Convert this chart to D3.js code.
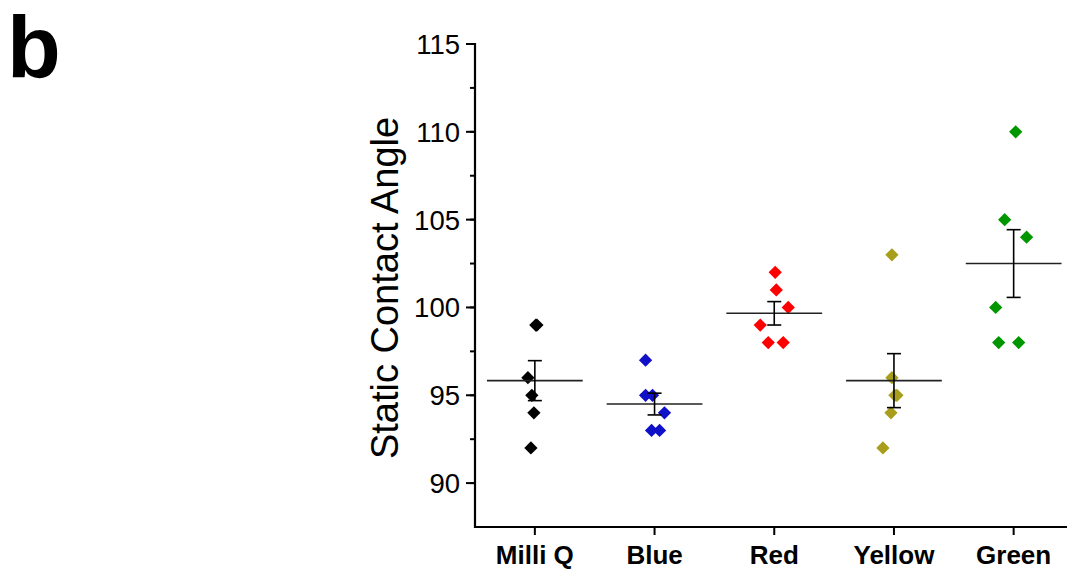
<!DOCTYPE html>
<html>
<head>
<meta charset="utf-8">
<script src="https://cdn.jsdelivr.net/npm/d3@7/dist/d3.min.js"></script>
<style>
  body { margin: 0; background: #fff; }
  svg { display: block; font-family: "Liberation Sans", Arial, sans-serif; }
</style>
</head>
<body>
<script>
// data
const categories = ["Milli Q", "Blue", "Red", "Yellow", "Green"];
const colors = ["#000000", "#1010c8", "#ff0000", "#a89e1c", "#009600"];

const milliQ = [99, 99, 96, 95, 94, 92];
const blue   = [97, 95, 95, 94, 93, 93];
const red    = [102, 101, 100, 99, 98, 98];
const yellow = [103, 96, 95, 95, 94, 92];
const green  = [110, 105, 104, 100, 98, 98];

// horizontal scatter of each point, in category units
const jitterMilliQ = [0.017, 0.008, -0.058, -0.025, -0.008, -0.033];
const jitterBlue   = [-0.075, -0.075, -0.017, 0.083, -0.025, 0.042];
const jitterRed    = [0.008, 0.017, 0.117, -0.117, -0.05, 0.075];
const jitterYellow = [-0.017, -0.017, 0.025, 0.008, -0.025, -0.092];
const jitterGreen  = [0.017, -0.075, 0.108, -0.15, -0.125, 0.042];

const yTicks = [90, 95, 100, 105, 110, 115];
const yMinorTicks = [90, 92.5, 95, 97.5, 100, 102.5, 105, 107.5, 110, 112.5, 115];

const groups = [milliQ, blue, red, yellow, green];
const jitters = [jitterMilliQ, jitterBlue, jitterRed, jitterYellow, jitterGreen];

// setup
const WIDTH = 1067, HEIGHT = 571;

const svg = d3.select("body").append("svg")
    .attr("width", WIDTH)
    .attr("height", HEIGHT);

const x = d3.scaleLinear().domain([0.5, 5.5]).range([475, 1073.5]);
const y = d3.scaleLinear().domain([87.5, 115]).range([527, 44]);

// panel letter
svg.append("text")
    .attr("x", 7)
    .attr("y", 77)
    .attr("font-size", 88)
    .attr("font-weight", "bold")
    .text("b");

// y axis
const yAxis = svg.append("g")
    .attr("transform", `translate(${x(0.5)},0)`);

yAxis.selectAll("line.minor")
    .data(yMinorTicks)
    .enter().append("line")
    .attr("class", "minor")
    .attr("x1", -5).attr("x2", 0)
    .attr("y1", d => y(d)).attr("y2", d => y(d))
    .attr("stroke", "#000").attr("stroke-width", 2);

yAxis.selectAll("line.major")
    .data(yTicks)
    .enter().append("line")
    .attr("class", "major")
    .attr("x1", -9).attr("x2", 0)
    .attr("y1", d => y(d)).attr("y2", d => y(d))
    .attr("stroke", "#000").attr("stroke-width", 2);

yAxis.selectAll("text")
    .data(yTicks)
    .enter().append("text")
    .attr("x", -15)
    .attr("y", d => y(d) + 10)
    .attr("text-anchor", "end")
    .attr("font-size", 27.5)
    .text(d => d);

yAxis.append("line")
    .attr("x1", 0).attr("x2", 0)
    .attr("y1", y(115) - 1).attr("y2", y(87.5) + 1)
    .attr("stroke", "#000").attr("stroke-width", 2.2);

svg.append("text")
    .attr("transform", "translate(398,288) rotate(-90)")
    .attr("text-anchor", "middle")
    .attr("font-size", 38)
    .text("Static Contact Angle");

// x axis
const xAxis = svg.append("g")
    .attr("transform", `translate(0,${y(87.5)})`);

xAxis.append("line")
    .attr("x1", x(0.5) - 1).attr("x2", WIDTH)
    .attr("y1", 0).attr("y2", 0)
    .attr("stroke", "#000").attr("stroke-width", 2.2);

xAxis.selectAll("line.tick")
    .data(categories)
    .enter().append("line")
    .attr("class", "tick")
    .attr("x1", (d, i) => x(i + 1)).attr("x2", (d, i) => x(i + 1))
    .attr("y1", 0).attr("y2", 8)
    .attr("stroke", "#000").attr("stroke-width", 2);

xAxis.selectAll("text")
    .data(categories)
    .enter().append("text")
    .attr("x", (d, i) => x(i + 1))
    .attr("y", 37)
    .attr("text-anchor", "middle")
    .attr("font-size", 26)
    .attr("font-weight", "bold")
    .text(d => d);

// points
const diamond = d3.symbol().type(d3.symbolSquare).size(88);

groups.forEach((values, gi) => {
    const g = svg.append("g");
    g.selectAll("path")
        .data(values)
        .enter().append("path")
        .attr("d", diamond)
        .attr("transform", (d, i) =>
            `translate(${x(gi + 1 + jitters[gi][i])},${y(d)}) rotate(45)`)
        .attr("fill", colors[gi]);
});

// mean and standard error
groups.forEach((values, gi) => {
    const mean = d3.mean(values);
    const se = d3.deviation(values) / Math.sqrt(values.length);
    const cx = x(gi + 1);
    const g = svg.append("g")
        .attr("stroke-width", 1.6);

    g.append("line")
        .attr("x1", x(gi + 1 - 0.4)).attr("x2", x(gi + 1 + 0.4))
        .attr("y1", y(mean)).attr("y2", y(mean))
        .attr("stroke", "#222");

    g.append("line")
        .attr("x1", cx).attr("x2", cx)
        .attr("y1", y(mean + se)).attr("y2", y(mean - se))
        .attr("stroke", "#000");

    [mean + se, mean - se].forEach(v => {
        g.append("line")
            .attr("x1", cx - 7).attr("x2", cx + 7)
            .attr("y1", y(v)).attr("y2", y(v))
            .attr("stroke", "#000");
    });
});
</script>
</body>
</html>
